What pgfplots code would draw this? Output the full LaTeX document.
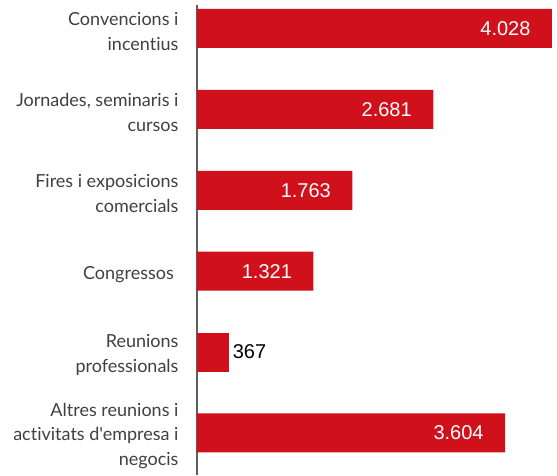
\documentclass[border=0pt]{standalone}
\usepackage{fontspec}
\setmainfont{Lato}[Ligatures={NoCommon,TeXOff}]
\newfontfamily\numfont{Liberation Sans}
\usepackage{pgfplots}
\pgfplotsset{compat=1.18}
\definecolor{barred}{HTML}{D0101A}
\definecolor{labgray}{HTML}{404040}
\definecolor{axgray}{HTML}{606060}

\begin{document}
\begin{tikzpicture}
\useasboundingbox (0,0) rectangle (557pt,475pt);
\begin{axis}[
    at={(197pt,0pt)}, anchor=south west,
    scale only axis,
    width=360pt, height=470pt,
    xbar, bar width=39pt, bar shift=0pt,
    y dir=reverse,
    xmin=0, xmax=4085,
    ymin=-0.29, ymax=5.52,
    axis x line=none,
    axis y line*=left,
    y axis line style={axgray, line width=1.6pt},
    ytick={0,...,5},
    major tick length=0pt,
    yticklabels={
        {Convencions i\\incentius},
        {Jornades, seminaris i\\cursos},
        {Fires i exposicions\\comercials},
        {Congressos\ },
        {Reunions\\professionals},
        {Altres reunions i\ \\activitats d'empresa i\\negocis}},
    yticklabel style={align=right, text=labgray, font=\fontsize{18}{24.5}\selectfont, xshift=-15pt, yshift=-3pt},
    point meta=explicit symbolic,
]
\addplot[fill=barred, draw=none,
    nodes near coords,
    nodes near coords style={anchor=east, xshift=-18pt, text=white, font=\numfont\fontsize{20}{20}\selectfont}]
    coordinates {(4028,0) [4.028] (2681,1) [2.681] (1763,2) [1.763] (1321,3) [1.321] (3496,5) [3.604]};
\addplot[fill=barred, draw=none,
    nodes near coords,
    nodes near coords style={anchor=west, xshift=0pt, text=black, font=\numfont\fontsize{20}{20}\selectfont}]
    coordinates {(367,4) [367]};
\end{axis}
\end{tikzpicture}
\end{document}
